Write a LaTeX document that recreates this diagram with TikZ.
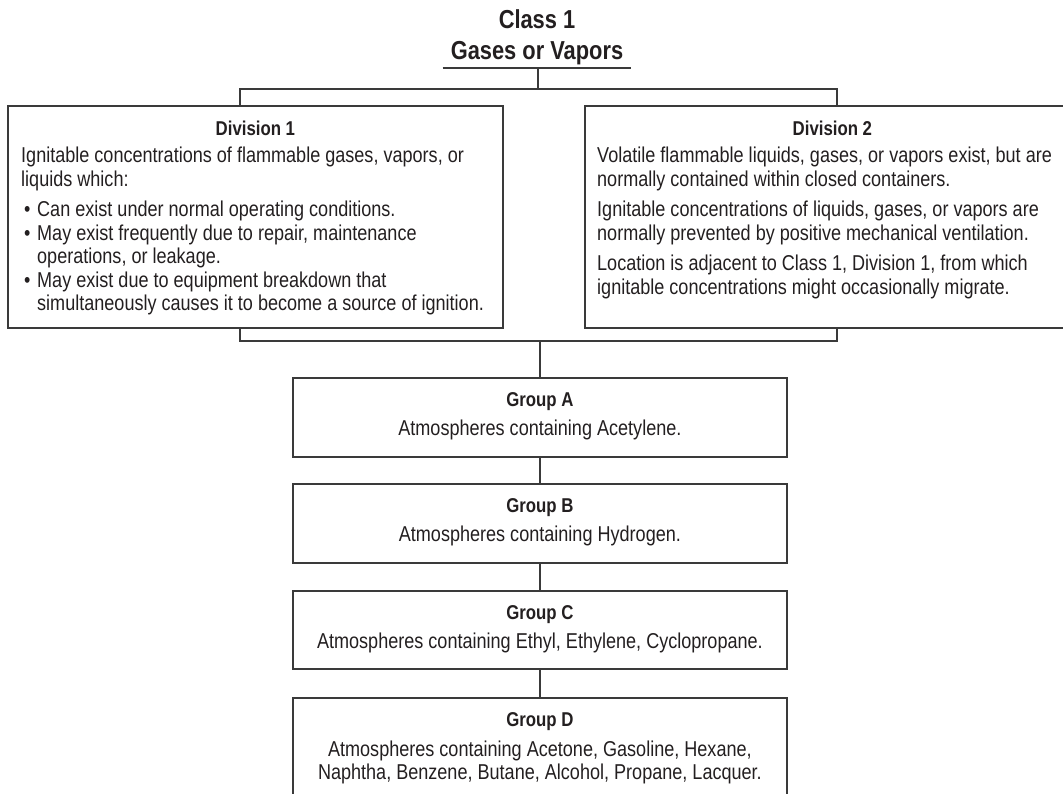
\documentclass[tikz,border=0pt]{standalone}
\usepackage{fontspec}
\setmainfont{Liberation Sans}[FakeStretch=0.84]
\usetikzlibrary{positioning}

\definecolor{rulegray}{HTML}{3A3A3A}
\definecolor{ink}{HTML}{231F20}

% bullet and hanging indent for the Division 1 list
\newcommand{\bulitem}{\makebox[16pt][l]{\hspace{3pt}\textbullet}}
\newcommand{\bulcont}{\hspace*{16pt}}

\begin{document}
\begin{tikzpicture}
  [x=1pt,y=-1pt,
   box/.style={draw=rulegray,line width=1.8pt,inner sep=0pt,anchor=north west},
   title/.style={font=\bfseries\fontsize{26}{30}\selectfont,text=ink,inner sep=0pt,anchor=base},
   head/.style={font=\bfseries\fontsize{20}{24}\selectfont,text=ink,inner sep=0pt,anchor=base},
   body/.style={font=\fontsize{21.5}{23.5}\selectfont,text=ink,inner sep=0pt,align=left,anchor=base west},
   gtext/.style={font=\fontsize{21.5}{23.5}\selectfont,text=ink,inner sep=0pt,align=center,anchor=base},
   wire/.style={draw=rulegray,line width=1.8pt}]

  \useasboundingbox (0,0) rectangle (1063,794);
  \clip (0,0) rectangle (1063,794);

  % Titulo
  \node[title] (cls) at (537,29) {Class 1};
  \node[title] (gas) at (537,60) {Gases or Vapors};
  \coordinate (ul) at (538,68);

  % Divisiones
  \node[box,minimum width=495pt,minimum height=222pt] (d1) at (7,105) {};
  \node[box,minimum width=495pt,minimum height=222pt] (d2) at (584,105) {};

  \node[head] (d1h) at ([yshift=-31pt]d1.north) {Division 1};
  \node[head] (d2h) at ([yshift=-31pt]d2.north) {Division 2};

  % (base = ultima linea del texto)
  \node[body] (d1t) at ([xshift=14pt,yshift=-206pt]d1.north west)
    {Ignitable concentrations of flammable gases, vapors, or\\
     liquids which:\\[7pt]
     \bulitem Can exist under normal operating conditions.\\
     \bulitem May exist frequently due to repair, maintenance\\
     \bulcont operations, or leakage.\\
     \bulitem May exist due to equipment breakdown that\\
     \bulcont simultaneously causes it to become a source of ignition.};

  \node[body] (d2t) at ([xshift=13pt,yshift=-189.5pt]d2.north west)
    {Volatile flammable liquids, gases, or vapors exist, but are\\
     normally contained within closed containers.\\[7pt]
     Ignitable concentrations of liquids, gases, or vapors are\\
     normally prevented by positive mechanical ventilation.\\[7pt]
     Location is adjacent to Class 1, Division 1, from which\\
     ignitable concentrations might occasionally migrate.};

  % Grupos
  \node[box,minimum width=494pt,minimum height=79pt] (ga) at (292,377) {};
  \node[box,minimum width=494pt,minimum height=79pt] (gb) at (292,483) {};
  \node[box,minimum width=494pt,minimum height=78pt] (gc) at (292,590) {};
  \node[box,minimum width=494pt,minimum height=110pt] (gd) at (292,697) {};

  \node[head] (gah) at ([yshift=-29.5pt]ga.north) {Group A};
  \node[gtext] (gat) at ([yshift=-58pt]ga.north) {Atmospheres containing Acetylene.};
  \node[head] (gbh) at ([yshift=-29.5pt]gb.north) {Group B};
  \node[gtext] (gbt) at ([yshift=-58pt]gb.north) {Atmospheres containing Hydrogen.};
  \node[head] (gch) at ([yshift=-29.5pt]gc.north) {Group C};
  \node[gtext] (gct) at ([yshift=-58pt]gc.north) {Atmospheres containing Ethyl, Ethylene, Cyclopropane.};
  \node[head] (gdh) at ([yshift=-29.5pt]gd.north) {Group D};
  \node[gtext] (gdt) at ([yshift=-82.5pt]gd.north)
    {Atmospheres containing Acetone, Gasoline, Hexane,\\
     Naphtha, Benzene, Butane, Alcohol, Propane, Lacquer.};

  % Llaves superior e inferior
  \coordinate (tl) at (240,89);
  \coordinate (tr) at (837,89);
  \coordinate (bl) at (240,341);
  \coordinate (br) at (837,341);

  \draw[wire] ([xshift=-8pt,yshift=-8pt]gas.base west) -- ([xshift=8pt,yshift=-8pt]gas.base east);
  \draw[wire] (ul) -- (ul |- tl);
  \draw[wire] (d1.north -| tl) -- (tl) -- (tr) -- (d2.north -| tr);
  \draw[wire] (d1.south -| bl) -- (bl) -- (br) -- (d2.south -| br);
  \draw[wire] (ga.north |- bl) -- (ga.north);

  % Aristas entre grupos
  \foreach \from/\to in {ga/gb, gb/gc, gc/gd}
    \draw[wire] (\from) -- (\to);

\end{tikzpicture}
\end{document}
